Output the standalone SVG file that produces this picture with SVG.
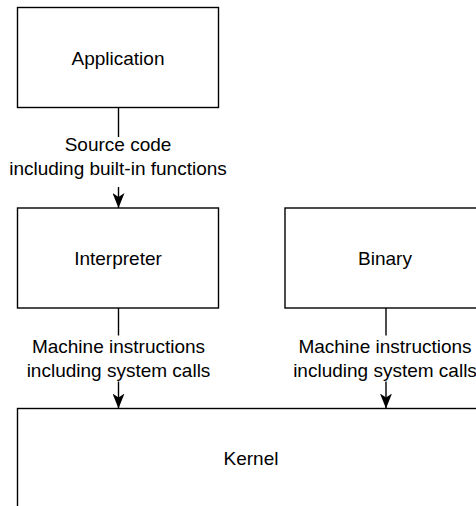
<svg xmlns="http://www.w3.org/2000/svg" width="476" height="506" viewBox="0 0 476 506">
<style>
.box{fill:#fff;stroke:#000;stroke-width:1.4}
.t{font-family:"Liberation Sans",Arial,Helvetica,sans-serif;font-size:19px;fill:#000;text-anchor:middle}
.edge{fill:none;stroke:#000;stroke-width:1.4}
.lbg{fill:#fff}
</style>
<defs>
<marker id="arr" viewBox="0 0 15 12" refX="15" refY="6" markerWidth="15" markerHeight="12" markerUnits="userSpaceOnUse" orient="auto">
<path d="M0,0 L15,6 L0,12 L4,6 Z" fill="#000"/>
</marker>
</defs>
<rect width="476" height="506" fill="#fff"/>
<g id="application"><rect class="box" x="17.5" y="7.5" width="201" height="100"/><text class="t" x="118" y="65">Application</text></g>
<g id="interpreter"><rect class="box" x="17.5" y="208" width="201" height="100"/><text class="t" x="118" y="265">Interpreter</text></g>
<g id="binary"><rect class="box" x="285" y="208" width="202" height="100"/><text class="t" x="385" y="265">Binary</text></g>
<g id="kernel"><rect class="box" x="17.5" y="408.5" width="468" height="100"/><text class="t" x="251" y="465">Kernel</text></g>
<g id="connectors">
<path class="edge" d="M118.5,108 V208" marker-end="url(#arr)"/>
<path class="edge" d="M118.5,308 V408.5" marker-end="url(#arr)"/>
<path class="edge" d="M386,308 V408.5" marker-end="url(#arr)"/>
<g id="label1"><rect class="lbg" x="10" y="137" width="216" height="50"/><text class="t" x="118" y="151">Source code</text><text class="t" x="118" y="174.5">including built-in functions</text></g>
<g id="label2"><rect class="lbg" x="33" y="335.5" width="171" height="46"/><text class="t" x="118.5" y="352.5">Machine instructions</text><text class="t" x="118.5" y="376.5">including system calls</text></g>
<g id="label3"><rect class="lbg" x="300" y="335.5" width="171" height="46"/><text class="t" x="385" y="352.5">Machine instructions</text><text class="t" x="385" y="376.5">including system calls</text></g>
</g>
</svg>
